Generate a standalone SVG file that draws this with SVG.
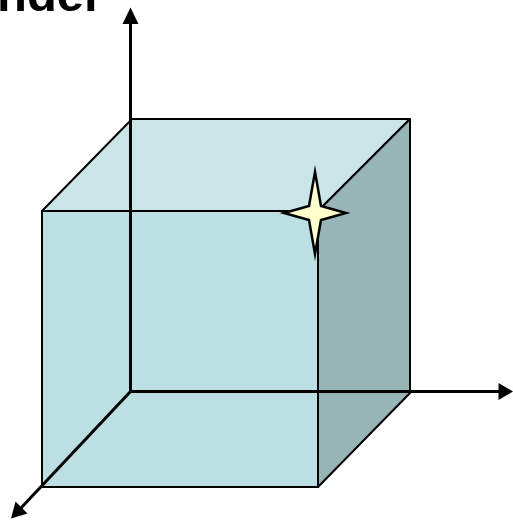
<svg xmlns="http://www.w3.org/2000/svg" width="513" height="520" viewBox="0 0 513 520">
<style>
.face{stroke:#000;stroke-width:2;stroke-linejoin:round}
.axis{fill:none;stroke:#000;stroke-width:3}
.head{fill:#000}
text{font-family:"Liberation Sans",Arial,sans-serif;font-weight:bold;font-size:49px;fill:#000}
</style>
<rect width="513" height="520" fill="#fff"/>
<text id="title" x="-3" y="11">nder</text>
<g id="cube">
<path class="face" fill="#bbdfe3" d="M42 211H318V487H42Z"/>
<path class="face" fill="#c9e5e8" d="M42 211L132 119H410L318 211Z"/>
<path class="face" fill="#97b4b6" d="M318 211L410 119V393L318 487Z"/>
</g>
<g id="connectors">
<path class="axis" d="M130.500 391V20"/>
<path class="head" d="M130.500 7.500L138.500 24H122.500Z"/>
<path class="axis" d="M130.500 391.500H500"/>
<path class="head" d="M513 391.500L498.500 383V400Z"/>
<path class="axis" d="M130.500 391.500L20 509"/>
<path class="head" d="M11 518.500L15.500 501.500L27.500 513.500Z"/>
<path class="axis" d="M318 211V487" style="stroke-width:2"/>
</g>
<g id="star">
<path fill="#ffffcc" stroke="#000" stroke-width="2.500" stroke-miterlimit="30" d="M315 172L321 206L346 213L321 220L315 254L309 220L284 213L309 206Z"/>
</g>
</svg>
